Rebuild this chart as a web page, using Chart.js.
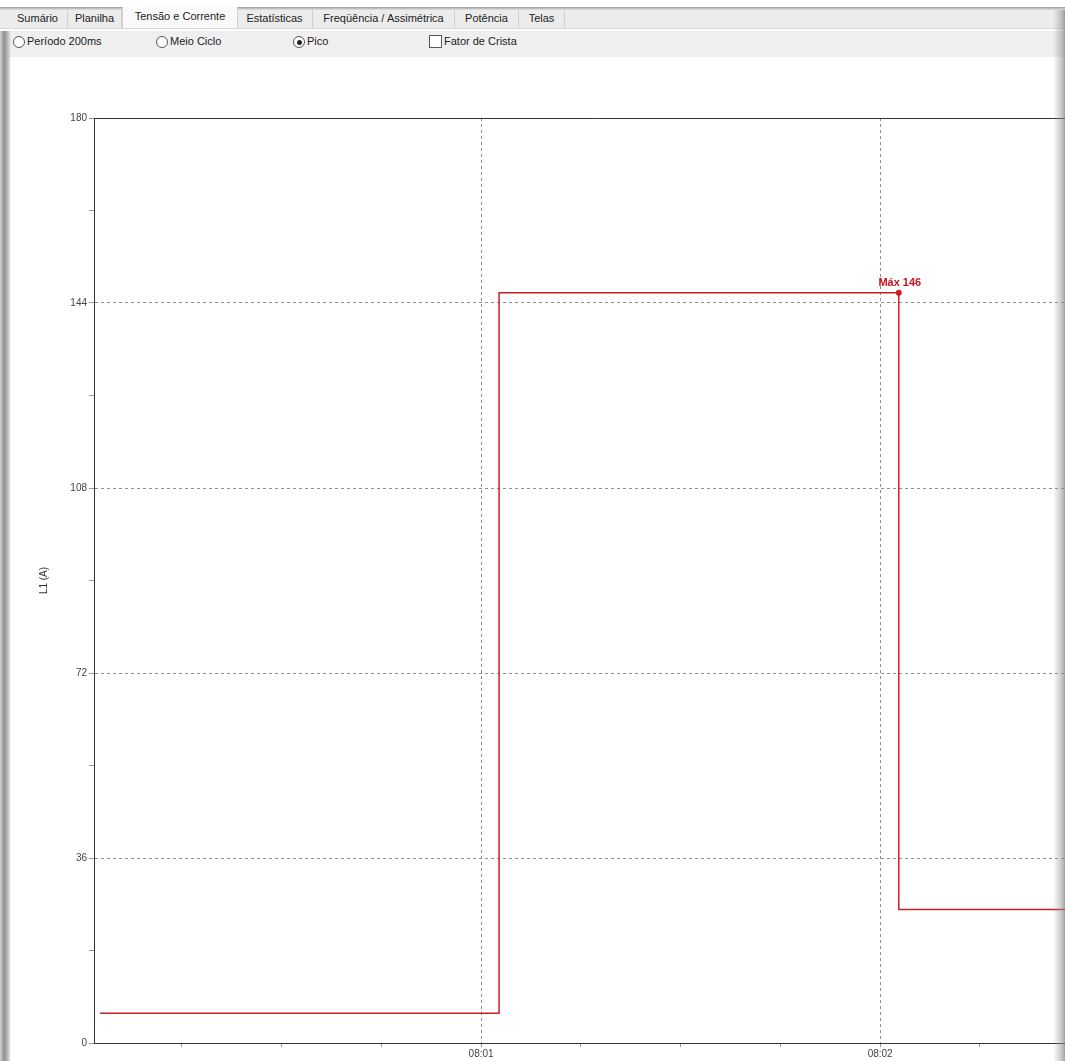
<!DOCTYPE html>
<html lang="pt-BR">
<head>
<meta charset="utf-8">
<title>Tensão e Corrente - L1 (A)</title>
<script src="https://cdn.jsdelivr.net/npm/chart.js@4.4.1/dist/chart.umd.min.js"></script>
<style>
  html, body { margin: 0; padding: 0; background: #fff; }
  body { width: 1065px; height: 1061px; overflow: hidden; position: relative;
         font-family: "Liberation Sans", Arial, sans-serif; font-size: 11px; color: #222; }
  .sombra-topo { position: absolute; left: 0; top: 7px; width: 1065px; height: 3px;
                 background: linear-gradient(#9a9a9a, #e4e4e4); }
  .abas { position: absolute; left: 0; top: 10px; width: 1065px; height: 18px;
          background: #ececec; border-bottom: 1px solid #d6d6d6; }
  .aba { position: absolute; top: 0; height: 18px; line-height: 17px; text-align: center;
         border-right: 1px solid #d0d0d0; white-space: nowrap; }
  .aba.ativa { top: -3px; height: 21px; line-height: 19px; background: #fafafa;
               border-left: 1px solid #cfcfcf; }
  .linha-branca { position: absolute; left: 0; top: 29px; width: 1065px; height: 2px; background: #fff; }
  .opcoes { position: absolute; left: 0; top: 31px; width: 1065px; height: 26px; background: #efefef; }
  .op { position: absolute; top: 2px; height: 16px; line-height: 16px; white-space: nowrap; }
  .op .radio { display: inline-block; width: 12px; height: 12px; border: 1px solid #555;
               border-radius: 50%; background: #fff; vertical-align: -3px; margin-right: 2px;
               position: relative; box-sizing: border-box; }
  .op .radio.on::after { content: ""; position: absolute; left: 2.5px; top: 2.5px;
                         width: 5px; height: 5px; border-radius: 50%; background: #222; }
  .op .caixa { display: inline-block; width: 13px; height: 13px; border: 1px solid #555;
               background: #fff; vertical-align: -3px; margin-right: 2px; box-sizing: border-box; }
  .grafico { position: absolute; left: 0; top: 57px; width: 1100px; height: 1004px; }
  .sombra-esq { position: absolute; left: 0; top: 31px; width: 11px; height: 1030px;
                background: linear-gradient(to right, #d8d8d8, #8e8e8e 4px, #bdbdbd 8px, rgba(255,255,255,0)); }
  .sombra-dir { position: absolute; right: 0; top: 10px; width: 12px; height: 1051px;
                background: linear-gradient(to right, rgba(255,255,255,0), rgba(150,150,150,0.55) 9px, rgba(120,120,120,0.7)); }
</style>
</head>
<body>
<div class="sombra-topo"></div>
<div class="abas">
  <span class="aba" style="left:8px;width:59px">Sumário</span>
  <span class="aba" style="left:68px;width:53px">Planilha</span>
  <span class="aba ativa" style="left:122px;width:114px">Tensão e Corrente</span>
  <span class="aba" style="left:237px;width:75px">Estatísticas</span>
  <span class="aba" style="left:313px;width:141px">Freqüência / Assimétrica</span>
  <span class="aba" style="left:455px;width:63px">Potência</span>
  <span class="aba" style="left:519px;width:45px">Telas</span>
</div>
<div class="linha-branca"></div>
<div class="opcoes">
  <span class="op" style="left:13px"><span class="radio"></span>Período 200ms</span>
  <span class="op" style="left:156px"><span class="radio"></span>Meio Ciclo</span>
  <span class="op" style="left:293px"><span class="radio on"></span>Pico</span>
  <span class="op" style="left:429px"><span class="caixa"></span>Fator de Crista</span>
</div>
<div class="grafico"><canvas id="grafico" width="1100" height="1004"></canvas></div>
<div class="sombra-esq"></div>
<div class="sombra-dir"></div>

<script>
// Tempo em segundos desde 08:00:00 (cada amostra fecha um intervalo de ~1 min)
const tempos = [2.7, 62.7, 122.8, 182.8];
// Corrente de pico na fase L1 (A)
const correnteL1 = [5.8, 5.8, 146, 26];

// Eixo Y: rótulos principais e passo das marcas menores
const yRotulos = [0, 36, 72, 108, 144, 180];
const yPassoMenor = 18;

// Eixo X: minutos rotulados e passo das marcas menores (s)
const xSegundos = [60, 120];
const xRotulos = ['08:01', '08:02'];
const xPassoMenor = 15;
const xMin = 1.8;
const xMax = 152.3;

const corLinha = '#cc1f27';
const corGrade = '#8f8f8f';
const corEixo = '#333333';
const fonteEixo = { family: '"Liberation Sans", Arial, sans-serif', size: 10 };

const iMax = correnteL1.indexOf(Math.max(...correnteL1));

// Linha superior da moldura + rótulo do máximo
const moldura = {
  id: 'moldura',
  afterDatasetsDraw(chart) {
    const { ctx, chartArea } = chart;
    ctx.save();
    ctx.strokeStyle = corEixo;
    ctx.lineWidth = 1;
    ctx.beginPath();
    ctx.moveTo(chartArea.left, Math.round(chartArea.top) + 0.5);
    ctx.lineTo(chartArea.right, Math.round(chartArea.top) + 0.5);
    ctx.stroke();

    const pt = chart.getDatasetMeta(0).data[iMax];
    ctx.fillStyle = '#c8141e';
    ctx.font = 'bold 11px "Liberation Sans", Arial, sans-serif';
    ctx.textAlign = 'center';
    ctx.textBaseline = 'alphabetic';
    ctx.fillText('Máx ' + Math.round(correnteL1[iMax]), pt.x + 1, pt.y - 7);
    ctx.restore();
  }
};

new Chart(document.getElementById('grafico'), {
  type: 'line',
  data: {
    datasets: [{
      label: 'L1 (A)',
      data: tempos.map((t, i) => ({ x: t, y: correnteL1[i] })),
      stepped: 'after',
      borderColor: corLinha,
      backgroundColor: corLinha,
      borderWidth: 1.5,
      pointRadius: ctx => ctx.dataIndex === iMax ? 2.2 : 0,
      pointHoverRadius: 0,
      fill: false
    }]
  },
  options: {
    responsive: false,
    animation: false,
    events: [],
    layout: { padding: { top: 61, right: 5, left: 0, bottom: 0 } },
    plugins: { legend: { display: false }, tooltip: { enabled: false } },
    scales: {
      x: {
        type: 'linear',
        min: xMin,
        max: xMax,
        afterFit: s => { s.height = 18; },
        border: { color: corEixo, width: 1, dash: [3, 3] },
        grid: {
          color: c => (c.tick && xSegundos.includes(c.tick.value)) ? corGrade : 'rgba(0,0,0,0)',
          tickColor: '#9a9a9a',
          tickLength: 4,
          drawTicks: true
        },
        ticks: {
          stepSize: xPassoMenor,
          includeBounds: false,
          autoSkip: false,
          maxRotation: 0,
          padding: 1,
          color: '#444',
          font: fonteEixo,
          callback: v => {
            const i = xSegundos.indexOf(v);
            return i >= 0 ? xRotulos[i] : '';
          }
        }
      },
      y: {
        min: 0,
        max: 180,
        afterFit: s => { s.width = 94; },
        border: { color: corEixo, width: 1, dash: [3, 3] },
        grid: {
          color: c => (c.tick && yRotulos.includes(c.tick.value) && c.tick.value !== 0 && c.tick.value !== 180)
            ? corGrade : 'rgba(0,0,0,0)',
          tickColor: '#9a9a9a',
          tickLength: 5
        },
        ticks: {
          stepSize: yPassoMenor,
          autoSkip: false,
          padding: 2,
          color: '#444',
          font: fonteEixo,
          callback: v => yRotulos.includes(v) ? String(v) : ''
        },
        title: {
          display: true,
          text: 'L1 (A)',
          color: '#333',
          font: fonteEixo,
          padding: { top: 38, bottom: 0 }
        }
      }
    }
  },
  plugins: [moldura]
});
</script>
</body>
</html>
